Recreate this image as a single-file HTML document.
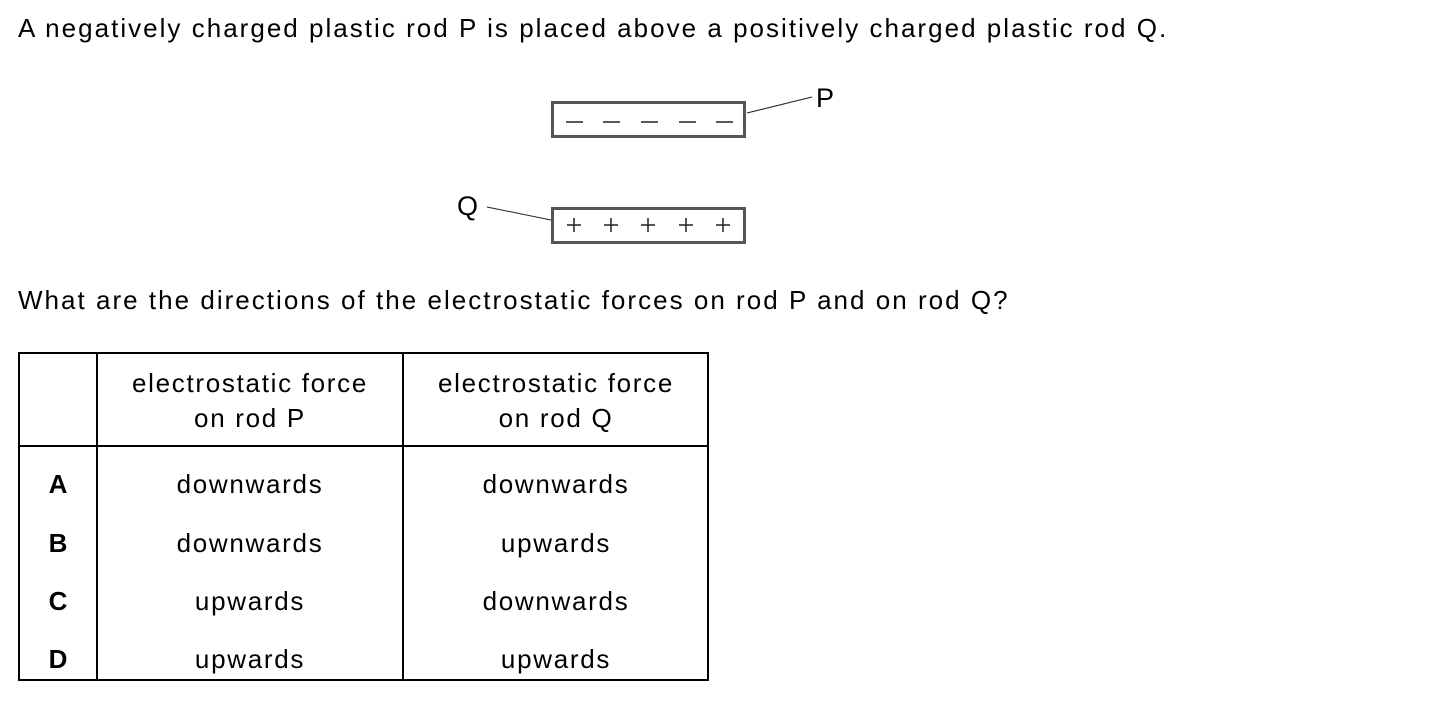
<!DOCTYPE html>
<html><head><style>
body{margin:0;background:#fff;width:1439px;height:705px;position:relative;font-family:"Liberation Sans",Arial,sans-serif;color:#000;overflow:hidden}
.t{position:absolute;font-size:26px;white-space:nowrap;letter-spacing:2.02px}
.c{position:absolute;font-size:26px;white-space:nowrap;letter-spacing:1.7px;text-align:center;line-height:30px}
.b{font-weight:bold;letter-spacing:0}
</style></head><body>
<div class="t" style="left:18px;top:13px">A negatively charged plastic rod P is placed above a positively charged plastic rod Q.</div>
<svg style="position:absolute;left:0;top:0" width="1439" height="705">
<rect x="552.5" y="102.5" width="192" height="34" fill="none" stroke="#555" stroke-width="3"/>
<rect x="552.5" y="208.5" width="192" height="34" fill="none" stroke="#555" stroke-width="3"/>
<g stroke="#222" stroke-width="1.5">
<line x1="566" y1="122" x2="583" y2="122"/><line x1="603" y1="122" x2="620" y2="122"/><line x1="641" y1="122" x2="658" y2="122"/><line x1="679" y1="122" x2="696" y2="122"/><line x1="716" y1="122" x2="733" y2="122"/>
<path d="M567 225h14M574 218v14M604 225h14M611 218v14M641 225h14M648 218v14M679 225h14M686 218v14M716 225h14M723 218v14"/>
<line x1="747" y1="113" x2="812" y2="97" stroke-width="1"/>
<line x1="487" y1="207" x2="551" y2="220" stroke-width="1"/>
</g>
<text x="816" y="107" font-family="Liberation Sans" font-size="27">P</text>
<text x="457" y="215" font-family="Liberation Sans" font-size="27">Q</text>
<g stroke="#000" stroke-width="2" fill="none">
<rect x="19" y="353" width="689" height="327"/>
<line x1="97" y1="353" x2="97" y2="680"/>
<line x1="403" y1="353" x2="403" y2="680"/>
<line x1="19" y1="446" x2="708" y2="446"/>
</g>
</svg>
<div class="t" style="left:18px;top:285px">What are the directions of the electrostatic forces on rod P and on rod Q?</div>
<div class="c" style="left:97px;width:306px;top:366px;line-height:35px">electrostatic force<br>on rod P</div>
<div class="c" style="left:403px;width:306px;top:366px;line-height:35px">electrostatic force<br>on rod Q</div>
<div class="c b" style="left:19px;width:78px;top:469px">A</div>
<div class="c" style="left:97px;width:306px;top:469px">downwards</div>
<div class="c" style="left:403px;width:306px;top:469px">downwards</div>
<div class="c b" style="left:19px;width:78px;top:528px">B</div>
<div class="c" style="left:97px;width:306px;top:528px">downwards</div>
<div class="c" style="left:403px;width:306px;top:528px">upwards</div>
<div class="c b" style="left:19px;width:78px;top:586px">C</div>
<div class="c" style="left:97px;width:306px;top:586px">upwards</div>
<div class="c" style="left:403px;width:306px;top:586px">downwards</div>
<div class="c b" style="left:19px;width:78px;top:644px">D</div>
<div class="c" style="left:97px;width:306px;top:644px">upwards</div>
<div class="c" style="left:403px;width:306px;top:644px">upwards</div>
</body></html>
